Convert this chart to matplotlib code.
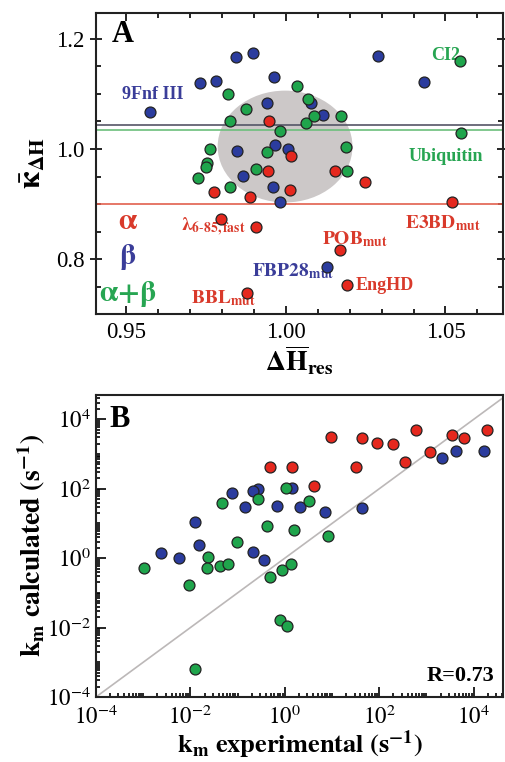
import numpy as np
import matplotlib
matplotlib.use("Agg")
import matplotlib.pyplot as plt
from matplotlib.patches import Ellipse
from matplotlib.ticker import MultipleLocator, FixedLocator, LogLocator, NullFormatter

plt.rcParams['font.family'] = 'serif'
plt.rcParams['font.serif'] = ['Liberation Serif', 'DejaVu Serif']
plt.rcParams['mathtext.fontset'] = 'stix'

# colours
RED, BLUE, GREEN = '#e5281e', '#2b3c9e', '#1fa54c'
RED_T, BLUE_T, GREEN_T = '#d93a2b', '#3a3d99', '#27a552'

# ---- panel A data: dH_res (x) vs kappa_dH (y)
a_blue_x = [0.9844, 0.9898, 1.0290, 0.9731, 0.9781, 0.9962, 1.0432, 0.9574, 0.9941,
            1.0078, 1.0118, 0.9846, 0.9967, 1.0007, 0.9866, 0.9959, 0.9982, 1.0130]
a_blue_y = [1.1664, 1.1737, 1.1682, 1.1192, 1.1234, 1.1307, 1.1221, 1.0677, 1.0829,
            1.0829, 1.0612, 0.9964, 1.0073, 1.0000, 0.9510, 0.9316, 0.9033, 0.7853]
a_green_x = [1.0547, 0.9820, 1.0035, 1.0070, 0.9877, 0.9826, 0.9982, 1.0063, 1.0088, 1.0174,
             1.0549, 0.9763, 0.9940, 1.0190, 0.9755, 0.9752, 0.9725, 0.9907, 1.0193, 0.9826]
a_green_y = [1.1597, 1.0998, 1.1149, 1.0907, 1.0721, 1.0503, 1.0327, 1.0472, 1.0604, 1.0599,
             1.0285, 0.9995, 0.9940, 1.0042, 0.9746, 0.9668, 0.9468, 0.9642, 0.9601, 0.9316]
a_red_x = [0.9948, 1.0018, 0.9945, 1.0155, 1.0248, 0.9775, 0.9887, 1.0014, 1.0519,
           0.9798, 0.9906, 1.0169, 1.0193, 0.9878]
a_red_y = [1.0514, 0.9868, 0.9592, 0.9604, 0.9401, 0.9220, 0.9138, 0.9252, 0.9033,
           0.8730, 0.8579, 0.8167, 0.7532, 0.7387]
mean_all, mean_green, mean_red = 1.0436, 1.034, 0.9008

# ---- panel B data: log10 k experimental (x) vs log10 k calculated (y)
b_red_x = [-0.311, 0.159, 0.608, 0.970, 1.504, 1.636, 1.943, 2.294, 2.536, 2.775, 3.072, 3.532, 3.792, 4.273]
b_red_y = [2.621, 2.621, 2.081, 3.488, 2.621, 3.448, 3.318, 3.295, 2.769, 3.699, 3.058, 3.540, 3.448, 3.699]
b_blue_x = [3.320, 3.617, 4.227, 1.625, 0.858, 0.328, 0.159, -0.176, -0.566, -0.667, -0.854, -1.119,
            -1.896, -1.818, -2.621, -2.244, -0.680, -0.439]
b_blue_y = [2.890, 3.092, 3.084, 1.431, 1.324, 1.480, 2.032, 1.494, 1.988, 1.928, 1.483, 1.870,
            1.035, 0.390, 0.156, -0.003, 0.168, -0.066]
b_green_x = [0.032, -0.559, -1.328, 0.521, -0.377, 0.197, 0.905, -1.023, -1.636, -1.642, -1.377, -1.214,
             -2.983, 0.123, -0.055, -0.318, -2.038, -0.106, 0.036, -1.907]
b_green_y = [2.035, 1.699, 1.581, 1.656, 0.934, 0.818, 0.650, 0.454, 0.043, -0.289, -0.231, -0.173,
             -0.289, -0.168, -0.347, -0.549, -0.780, -1.775, -1.945, -3.199]

fig = plt.figure(figsize=(5.05, 7.62), dpi=100)
axA = fig.add_axes([0.190, 0.588, 0.806, 0.395])
axB = fig.add_axes([0.190, 0.0853, 0.806, 0.3963])

mk = dict(s=62, edgecolors='#222222', linewidths=0.9, zorder=4)

# panel A
axA.add_patch(Ellipse((0.9998, 1.0045), 0.0422, 0.203, facecolor='#ccc8c8', edgecolor='none', zorder=1))
axA.axhline(mean_all, color='#555566', lw=1.2, zorder=2)
axA.axhline(mean_green, color='#6cbf7c', lw=1.2, zorder=2)
axA.axhline(mean_red, color='#e2604e', lw=1.2, zorder=2)
axA.scatter(a_blue_x, a_blue_y, color=BLUE, **mk)
axA.scatter(a_green_x, a_green_y, color=GREEN, **mk)
axA.scatter(a_red_x, a_red_y, color=RED, **mk)
axA.set_xlim(0.9406, 1.068)
axA.set_ylim(0.7006, 1.247)
axA.xaxis.set_major_locator(FixedLocator([0.95, 1.00, 1.05]))
axA.xaxis.set_minor_locator(MultipleLocator(0.01))
axA.yaxis.set_major_locator(MultipleLocator(0.2))
axA.yaxis.set_minor_locator(MultipleLocator(0.05))
axA.set_xticklabels(['0.95', '1.00', '1.05'])
axA.set_yticklabels(['%.1f' % v for v in axA.get_yticks()])
axA.tick_params(which='both', direction='in', top=True, right=True, labelsize=16.5, width=1.2)
axA.tick_params(which='major', length=6)
axA.tick_params(which='minor', length=3.5)
axA.tick_params(axis='y', which='major', direction='inout', length=9)
axA.tick_params(axis='x', pad=6)
axA.set_xlabel(r'$\mathbf{\Delta\overline{H}_{res}}$', fontsize=20, labelpad=0)
axA.set_ylabel(r'$\bar{\mathbf{\kappa}}_{\mathbf{\Delta H}}$', fontsize=22, labelpad=6)

tk = dict(fontweight='bold', fontsize=13)
axA.text(0.038, 0.93, 'A', transform=axA.transAxes, fontsize=22, fontweight='bold',
         ha='left', va='center')
axA.text(0.9584, 1.0998, '9Fnf III', color=BLUE_T, ha='center', va='center', **tk)
axA.text(1.050, 1.169, 'CI2', color=GREEN_T, ha='center', va='center', **tk)
axA.text(1.050, 0.987, 'Ubiquitin', color=GREEN_T, ha='center', va='center', **tk)
axA.text(0.9506, 0.8675, r'$\mathbf{\alpha}$', color=RED_T, ha='center', va='center', fontsize=21)
axA.text(0.9506, 0.804, r'$\mathbf{\beta}$', color=BLUE_T, ha='center', va='center', fontsize=21)
axA.text(0.9506, 0.737, r'$\mathbf{\alpha{+}\beta}$', color=GREEN_T, ha='center', va='center', fontsize=21)
axA.text(0.9875, 0.8584, r'$\mathbf{\lambda_{6\text{-}85,fast}}$', color=RED_T, ha='right', va='center', fontsize=14)
axA.text(1.0216, 0.8367, r'$\mathbf{POB_{mut}}$', color=RED_T, ha='center', va='center', fontsize=14)
axA.text(1.0150, 0.779, r'$\mathbf{FBP28_{mut}}$', color=BLUE_T, ha='right', va='center', fontsize=14)
axA.text(1.0219, 0.753, 'EngHD', color=RED_T, ha='left', va='center', **tk)
axA.text(0.9906, 0.730, r'$\mathbf{BBL_{mut}}$', color=RED_T, ha='right', va='center', fontsize=14)
axA.text(1.0609, 0.866, r'$\mathbf{E3BD_{mut}}$', color=RED_T, ha='right', va='center', fontsize=14)

# panel B
axB.plot([1e-4, 1e6], [1e-4, 1e6], color='#bcb8b8', lw=1.2, zorder=2)
axB.scatter(10 ** np.array(b_red_x), 10 ** np.array(b_red_y), color=RED, **mk)
axB.scatter(10 ** np.array(b_blue_x), 10 ** np.array(b_blue_y), color=BLUE, **mk)
axB.scatter(10 ** np.array(b_green_x), 10 ** np.array(b_green_y), color=GREEN, **mk)
axB.set_xscale('log')
axB.set_yscale('log')
axB.set_xlim(1e-4, 10 ** 4.62)
axB.set_ylim(1e-4, 10 ** 4.70)
for axis in (axB.xaxis, axB.yaxis):
    axis.set_major_locator(FixedLocator([1e-4, 1e-2, 1e0, 1e2, 1e4]))
    axis.set_minor_locator(LogLocator(base=10, subs=np.arange(1, 10), numticks=30))
    axis.set_minor_formatter(NullFormatter())
axB.set_xticklabels([r'$10^{-4}$', r'$10^{-2}$', r'$10^{0}$', r'$10^{2}$', r'$10^{4}$'])
axB.set_yticklabels([r'$10^{-4}$', r'$10^{-2}$', r'$10^{0}$', r'$10^{2}$', r'$10^{4}$'])
axB.tick_params(which='both', direction='in', labelsize=16.5, width=1.2)
axB.tick_params(which='major', length=7)
axB.tick_params(which='minor', length=3)
axB.tick_params(axis='x', pad=6)
axB.tick_params(axis='y', pad=4)
axB.set_xlabel(r'$\mathbf{k_m\ experimental\ (s^{-1})}$', fontsize=19, labelpad=0)
axB.set_ylabel(r'$\mathbf{k_m\ calculated\ (s^{-1})}$', fontsize=20, labelpad=0)
axB.text(0.034, 0.92, 'B', transform=axB.transAxes, fontsize=22, fontweight='bold',
         ha='left', va='center')
axB.text(0.98, 0.07, 'R=0.73', transform=axB.transAxes, fontsize=16, fontweight='bold',
         ha='right', va='center')

for ax in (axA, axB):
    for sp in ax.spines.values():
        sp.set_linewidth(1.5)
        sp.set_color('#222222')

fig.savefig('out.png', dpi=100)
